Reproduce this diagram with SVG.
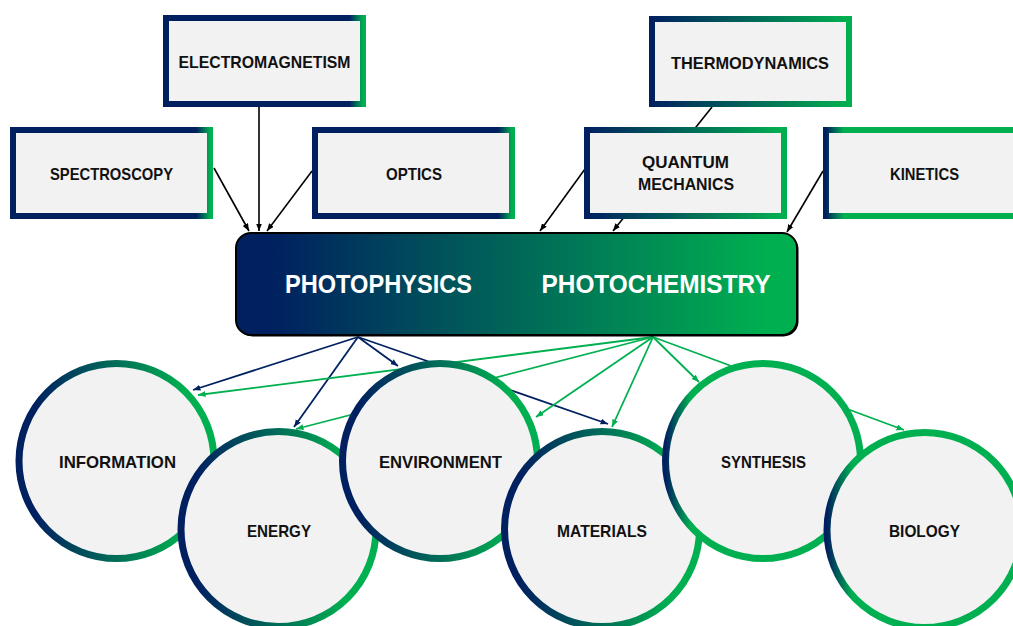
<svg xmlns="http://www.w3.org/2000/svg" width="1013" height="626" viewBox="0 0 1013 626">
<defs>
<style>
.box{fill:#F2F2F2;stroke-width:6}
.circ{fill:#F2F2F2;stroke-width:7}
.lbl{font-family:"Liberation Sans",Arial,sans-serif;font-weight:bold;font-size:17px;fill:#111;text-anchor:middle}
.big{font-family:"Liberation Sans",Arial,sans-serif;font-weight:bold;font-size:25.5px;fill:#fff;text-anchor:middle}
.blk{stroke:#000;stroke-width:1.6;fill:none;marker-end:url(#aBlack)}
.nav{stroke:#002060;stroke-width:1.8;fill:none;marker-end:url(#aNavy)}
.grn{stroke:#00B050;stroke-width:1.8;fill:none;marker-end:url(#aGreen)}
</style>
<linearGradient id="gEdge" x1="0" y1="0" x2="1" y2="0"><stop offset="0.93" stop-color="#002060"/><stop offset="1" stop-color="#00B050"/></linearGradient>
<linearGradient id="gSmooth" x1="0" y1="0" x2="1" y2="0"><stop offset="0" stop-color="#002060"/><stop offset="1" stop-color="#00B050"/></linearGradient>
<linearGradient id="gKin" x1="0" y1="0" x2="1" y2="0"><stop offset="0" stop-color="#002060"/><stop offset="0.09" stop-color="#00B050"/></linearGradient>
<linearGradient id="gCirc" x1="0" y1="0" x2="1" y2="0"><stop offset="0.08" stop-color="#002060"/><stop offset="0.85" stop-color="#00B050"/></linearGradient>
<linearGradient id="gCircG" x1="0" y1="0" x2="1" y2="0"><stop offset="0" stop-color="#002060"/><stop offset="0.13" stop-color="#00B050"/></linearGradient>
<linearGradient id="gCenter" x1="0" y1="0" x2="1" y2="0"><stop offset="0.06" stop-color="#002060"/><stop offset="0.95" stop-color="#00B050"/></linearGradient>
<marker id="aBlack" markerUnits="userSpaceOnUse" markerWidth="9" markerHeight="7" refX="7.5" refY="3" orient="auto"><path d="M0,0 L7.5,3 L0,6 z" fill="#000"/></marker>
<marker id="aNavy" markerUnits="userSpaceOnUse" markerWidth="9" markerHeight="7" refX="7.5" refY="3" orient="auto"><path d="M0,0 L7.5,3 L0,6 z" fill="#002060"/></marker>
<marker id="aGreen" markerUnits="userSpaceOnUse" markerWidth="9" markerHeight="7" refX="7.5" refY="3" orient="auto"><path d="M0,0 L7.5,3 L0,6 z" fill="#00B050"/></marker>
</defs>
<rect width="1013" height="626" fill="#fff"/>
<g id="connectors">
<line class="blk" x1="214" y1="168" x2="249" y2="231"/>
<line class="blk" x1="259" y1="107" x2="259" y2="231"/>
<line class="blk" x1="312" y1="171" x2="267" y2="231"/>
<line class="blk" x1="585" y1="169" x2="540" y2="231"/>
<line class="blk" x1="712" y1="107" x2="613" y2="231"/>
<line class="blk" x1="823" y1="171" x2="787" y2="232"/>
<line class="nav" x1="358" y1="337" x2="193" y2="390"/>
<line class="nav" x1="358" y1="337" x2="294" y2="427"/>
<line class="nav" x1="358" y1="337" x2="398" y2="366"/>
<line class="nav" x1="358" y1="337" x2="608" y2="424"/>
<line class="grn" x1="653" y1="337" x2="198" y2="395"/>
<line class="grn" x1="653" y1="337" x2="296" y2="429"/>
<line class="grn" x1="653" y1="337" x2="536" y2="417"/>
<line class="grn" x1="653" y1="337" x2="612" y2="427"/>
<line class="grn" x1="653" y1="337" x2="699" y2="382"/>
<line class="grn" x1="653" y1="337" x2="904" y2="430"/>
</g>
<g id="electromagnetism"><rect class="box" x="166" y="18" width="197" height="86" stroke="url(#gEdge)"/><text class="lbl" x="264.5" y="68" textLength="172" lengthAdjust="spacingAndGlyphs">ELECTROMAGNETISM</text></g>
<g id="thermodynamics"><rect class="box" x="652" y="19" width="197" height="85" stroke="url(#gSmooth)"/><text class="lbl" x="750" y="68.5" textLength="158" lengthAdjust="spacingAndGlyphs">THERMODYNAMICS</text></g>
<g id="spectroscopy"><rect class="box" x="13" y="130" width="197" height="86" stroke="url(#gEdge)"/><text class="lbl" x="111.5" y="180" textLength="123" lengthAdjust="spacingAndGlyphs">SPECTROSCOPY</text></g>
<g id="optics"><rect class="box" x="315" y="130" width="197" height="86" stroke="url(#gEdge)"/><text class="lbl" x="414" y="180" textLength="56" lengthAdjust="spacingAndGlyphs">OPTICS</text></g>
<g id="quantum-mechanics"><rect class="box" x="587" y="130" width="197" height="86" stroke="url(#gSmooth)"/><text class="lbl" x="685.5" y="168" textLength="87" lengthAdjust="spacingAndGlyphs">QUANTUM</text><text class="lbl" x="686" y="190" textLength="96" lengthAdjust="spacingAndGlyphs">MECHANICS</text></g>
<g id="kinetics"><rect class="box" x="826" y="130" width="197" height="86" stroke="url(#gKin)"/><text class="lbl" x="924.5" y="180" textLength="69" lengthAdjust="spacingAndGlyphs">KINETICS</text></g>
<g id="center">
<rect x="237.5" y="234.5" width="561" height="102" rx="15" fill="#000"/>
<rect x="236" y="233" width="561" height="102" rx="15" fill="url(#gCenter)" stroke="#000" stroke-width="2"/>
<text class="big" x="378.5" y="293" textLength="187" lengthAdjust="spacingAndGlyphs">PHOTOPHYSICS</text>
<text class="big" x="656" y="293" textLength="229" lengthAdjust="spacingAndGlyphs">PHOTOCHEMISTRY</text>
</g>
<g id="information"><circle class="circ" cx="116.5" cy="461" r="97.5" stroke="url(#gCirc)"/><text class="lbl" x="117.5" y="468" textLength="117" lengthAdjust="spacingAndGlyphs">INFORMATION</text></g>
<g id="energy"><circle class="circ" cx="278.5" cy="529" r="97.5" stroke="url(#gCirc)"/><text class="lbl" x="279" y="537" textLength="64" lengthAdjust="spacingAndGlyphs">ENERGY</text></g>
<g id="environment"><circle class="circ" cx="440" cy="461" r="97.5" stroke="url(#gCirc)"/><text class="lbl" x="440.5" y="467.5" textLength="123" lengthAdjust="spacingAndGlyphs">ENVIRONMENT</text></g>
<g id="materials"><circle class="circ" cx="602" cy="529" r="97.5" stroke="url(#gCirc)"/><text class="lbl" x="602" y="537" textLength="90" lengthAdjust="spacingAndGlyphs">MATERIALS</text></g>
<g id="synthesis"><circle class="circ" cx="763" cy="461" r="97.5" stroke="url(#gCircG)"/><text class="lbl" x="763.5" y="467.5" textLength="85" lengthAdjust="spacingAndGlyphs">SYNTHESIS</text></g>
<g id="biology"><circle class="circ" cx="924.5" cy="530" r="97.5" stroke="url(#gCircG)"/><text class="lbl" x="924.5" y="537" textLength="71" lengthAdjust="spacingAndGlyphs">BIOLOGY</text></g>
</svg>
